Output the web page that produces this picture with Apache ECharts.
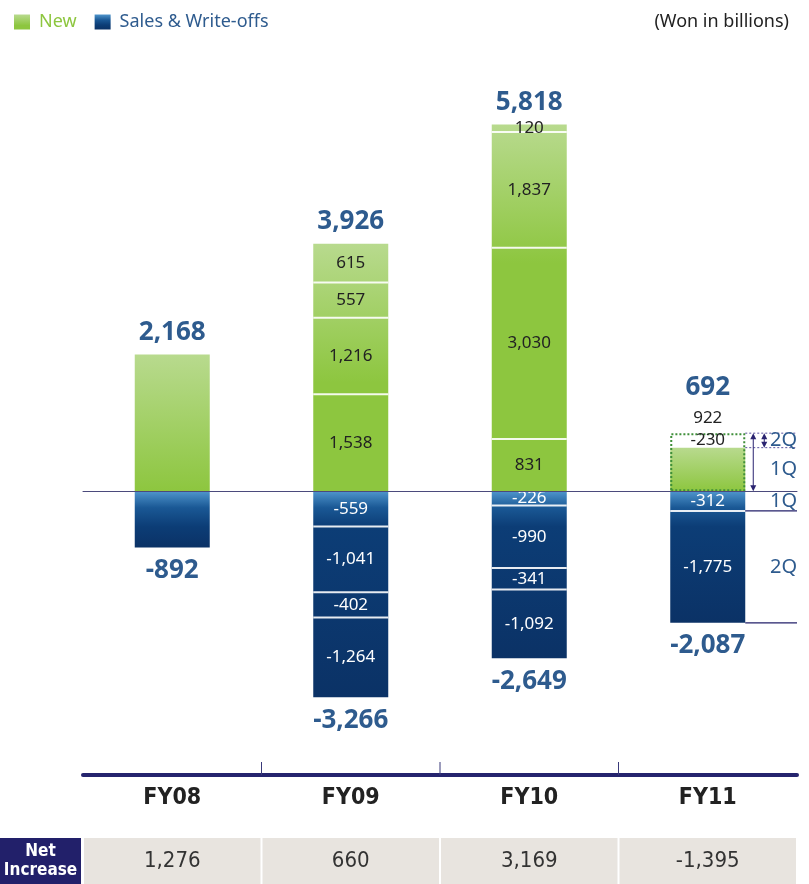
<!DOCTYPE html>
<html>
<head>
<meta charset="utf-8">
<script src="https://cdn.jsdelivr.net/npm/echarts@6/dist/echarts.min.js"></script>
<style>
  html, body { margin: 0; padding: 0; background: #fff; }
  #chart { width: 809px; height: 884px; }
</style>
</head>
<body>
<div id="chart"></div>
<script>
const categories = ['FY08', 'FY09', 'FY10', 'FY11'];
const newTotal = [2168, 3926, 5818, 692];
const salesTotal = [-892, -3266, -2649, -2087];
// stacked parts, the one next to zero first
const newParts = [[], [1538, 1216, 557, 615], [831, 3030, 1837, 120], []];
const salesParts = [[], [-559, -1041, -402, -1264], [-226, -990, -341, -1092], [-312, -1775]];
const fy11NewQuarters = [922, -230]; // 1Q, 2Q
const netIncrease = [1276, 660, 3169, -1395];

const FONT = "'Noto Sans', sans-serif";
const COND = "'DejaVu Sans Condensed', 'DejaVu Sans', sans-serif";
const BLUE_TEXT = '#2e5b8e';
const BAR_W = 75;

function fmt(v) { return v.toLocaleString('en-US'); }

function greenGrad(v) {
  const s = Math.min(1, 2200 / v);
  return new echarts.graphic.LinearGradient(0, 0, 0, 1, [
    { offset: 0, color: '#b8da8e' },
    { offset: s, color: '#8dc63f' },
    { offset: 1, color: '#8dc63f' }
  ]);
}
function blueGrad(v) {
  const a = Math.abs(v);
  const s1 = Math.min(0.4, 260 / a), s2 = Math.min(0.7, 560 / a);
  return new echarts.graphic.LinearGradient(0, 0, 0, 1, [
    { offset: 0, color: '#4f95cc' },
    { offset: s1, color: '#1a5895' },
    { offset: s2, color: '#0c3d76' },
    { offset: 1, color: '#0b3266' }
  ]);
}

// segment rows: [category, from, to, kind(0 green,1 blue,2 plain), isLast]
const segData = [];
function pushParts(parts, kind) {
  parts.forEach((list, i) => {
    let acc = 0;
    list.forEach((v, j) => {
      segData.push([i, acc, acc + v, kind, j === list.length - 1 ? 1 : 0]);
      acc += v;
    });
  });
}
pushParts(newParts, 0);
pushParts(salesParts, 1);
segData.push([3, fy11NewQuarters[0], fy11NewQuarters[0] + fy11NewQuarters[1], 2, 1]);

function renderSeg(params, api) {
  const i = api.value(0), a = api.value(1), b = api.value(2), kind = api.value(3), last = api.value(4);
  const pa = api.coord([i, a]), pb = api.coord([i, b]);
  const children = [{
    type: 'text',
    style: {
      text: fmt(b - a), x: pa[0], y: (pa[1] + pb[1]) / 2,
      textAlign: 'center', textVerticalAlign: 'middle',
      font: '17px ' + FONT, fill: kind === 1 ? '#fff' : '#222'
    }
  }];
  if (!last) {
    children.push({
      type: 'line',
      shape: { x1: pa[0] - BAR_W / 2, y1: pb[1], x2: pa[0] + BAR_W / 2, y2: pb[1] },
      style: { stroke: 'rgba(255,255,255,0.9)', lineWidth: 2 }
    });
  }
  return { type: 'group', children };
}

function arrow(x, y1, y2, color) {
  const h = 6, w = 3;
  return [
    { type: 'line', shape: { x1: x, y1: y1 + 2, x2: x, y2: y2 - 2 }, style: { stroke: color, lineWidth: 1 } },
    { type: 'polygon', shape: { points: [[x, y1], [x - w, y1 + h], [x + w, y1 + h]] }, style: { fill: color } },
    { type: 'polygon', shape: { points: [[x, y2], [x - w, y2 - h], [x + w, y2 - h]] }, style: { fill: color } }
  ];
}

function renderNote(params, api) {
  const i = api.value(0);
  const top = api.coord([i, api.value(1)])[1];
  const mid = api.coord([i, api.value(2)])[1];
  const zero = api.coord([i, 0]);
  const q1 = api.coord([i, api.value(3)])[1];
  const q2 = api.coord([i, api.value(4)])[1];
  const bx = zero[0] + BAR_W / 2;
  const rx = params.coordSys.x + params.coordSys.width;
  const dash = { stroke: '#5a529e', lineWidth: 1, lineDash: [2, 2] };
  const solid = { stroke: '#23206a', lineWidth: 1.3 };
  const txt = (t, y) => ({
    type: 'text',
    style: { text: t, x: rx, y: y, textAlign: 'right', textVerticalAlign: 'middle', font: '20px ' + FONT, fill: BLUE_TEXT }
  });
  const children = [
    { type: 'line', shape: { x1: bx, y1: top, x2: rx, y2: top }, style: dash },
    { type: 'line', shape: { x1: bx, y1: mid, x2: rx, y2: mid }, style: dash },
    { type: 'line', shape: { x1: bx, y1: q1, x2: rx, y2: q1 }, style: solid },
    { type: 'line', shape: { x1: bx, y1: q2, x2: rx, y2: q2 }, style: solid },
    ...arrow(bx + 8, top, zero[1], '#2a2370'),
    ...arrow(bx + 19, top, mid, '#2a2370'),
    txt('2Q', (top + mid) / 2),
    txt('1Q', (mid + zero[1]) / 2),
    txt('1Q', (zero[1] + q1) / 2),
    txt('2Q', (q1 + q2) / 2)
  ];
  return { type: 'group', children };
}

function renderTick(params, api) {
  const i = api.value(0);
  const x = api.coord([i, 0])[0] + api.size([1, 0])[0] / 2;
  const yb = params.coordSys.y + params.coordSys.height;
  return { type: 'line', shape: { x1: x, y1: yb - 13, x2: x, y2: yb }, style: { stroke: '#3a3a7a', lineWidth: 1 } };
}

function renderCell(params, api) {
  const i = api.value(0);
  const band = api.size([1, 0])[0];
  const p0 = api.coord([i, 0]), p1 = api.coord([i, 1]);
  return {
    type: 'group',
    children: [
      { type: 'rect', shape: { x: p0[0] - band / 2 + 1, y: p1[1], width: band - 2, height: p0[1] - p1[1] }, style: { fill: '#e8e4df' } },
      {
        type: 'text',
        style: {
          text: fmt(api.value(1)), x: p0[0], y: (p0[1] + p1[1]) / 2,
          textAlign: 'center', textVerticalAlign: 'middle', font: '22px ' + COND, fill: '#333'
        }
      }
    ]
  };
}

const bigLabel = { fontSize: 26, fontWeight: 'bold', color: BLUE_TEXT, fontFamily: FONT };

const option = {
  animation: false,
  title: {
    text: '(Won in billions)', right: 15, top: 8,
    textStyle: { fontSize: 18, fontWeight: 'normal', color: '#222', fontFamily: FONT }
  },
  legend: {
    left: 9, top: 8, icon: 'rect', itemWidth: 16, itemHeight: 15, itemGap: 18,
    data: [
      { name: 'New', textStyle: { color: '#8dc63f' } },
      { name: 'Sales & Write-offs', textStyle: { color: BLUE_TEXT } }
    ],
    textStyle: { fontSize: 18, fontFamily: FONT, padding: [0, 0, 0, 4] }
  },
  grid: [
    { left: 83, right: 12, top: 113, bottom: 109 },
    { left: 83, right: 12, top: 838, bottom: 0 }
  ],
  xAxis: [
    {
      type: 'category', data: categories, gridIndex: 0, position: 'top', z: 10,
      axisLine: { onZero: true, lineStyle: { color: '#4b4a7c', width: 1 } },
      axisTick: { show: false }, axisLabel: { show: false }
    },
    {
      type: 'category', data: categories, gridIndex: 0, position: 'bottom',
      axisLine: { onZero: false, lineStyle: { color: '#25246e', width: 4 } },
      axisTick: { show: false },
      axisLabel: { margin: 12, fontSize: 23, fontWeight: 'bold', color: '#222', fontFamily: COND }
    },
    { type: 'category', data: categories, gridIndex: 1, show: false }
  ],
  yAxis: [
    { type: 'value', gridIndex: 0, min: -4500, max: 6000, show: false },
    { type: 'value', gridIndex: 1, min: 0, max: 1, show: false }
  ],
  series: [
    {
      name: 'New', type: 'bar', stack: 'total', barWidth: BAR_W, barGap: '-100%',
      itemStyle: { color: greenGrad(3000) },
      label: { show: true, position: 'top', distance: 9, formatter: p => fmt(p.value), ...bigLabel },
      data: newTotal.map((v, i) => {
        const d = { value: v, itemStyle: { color: greenGrad(v) } };
        if (i === 3) d.label = { show: false };
        return d;
      })
    },
    {
      name: 'Sales & Write-offs', type: 'bar', stack: 'total', barWidth: BAR_W, barGap: '-100%',
      itemStyle: { color: blueGrad(700) },
      label: { show: true, position: 'bottom', distance: 10, formatter: p => fmt(p.value), ...bigLabel },
      data: salesTotal.map(v => ({ value: v, itemStyle: { color: blueGrad(v) } }))
    },
    {
      name: 'FY11 1Q', type: 'bar', barWidth: BAR_W, barGap: '-100%', z: 3,
      itemStyle: { color: 'rgba(0,0,0,0)', borderColor: '#3f8f3a', borderWidth: 2, borderType: [2, 2] },
      label: {
        show: true, position: 'top', distance: 0,
        formatter: () => '{t|' + fmt(newTotal[3]) + '}\n{v|' + fmt(fy11NewQuarters[0]) + '}',
        rich: {
          t: { fontSize: 26, fontWeight: 'bold', color: BLUE_TEXT, fontFamily: FONT, lineHeight: 32 },
          v: { fontSize: 17, color: '#222', fontFamily: FONT, lineHeight: 30 }
        }
      },
      data: ['-', '-', '-', fy11NewQuarters[0]]
    },
    {
      name: 'segments', type: 'custom', z: 5, renderItem: renderSeg,
      encode: { x: 0, y: [1, 2] }, data: segData
    },
    {
      name: 'notes', type: 'custom', z: 5, renderItem: renderNote,
      encode: { x: 0, y: [1, 2] },
      data: [[3, fy11NewQuarters[0], fy11NewQuarters[0] + fy11NewQuarters[1], salesParts[3][0], salesTotal[3]]]
    },
    {
      name: 'ticks', type: 'custom', xAxisIndex: 1, renderItem: renderTick,
      encode: { x: 0, y: 1 }, data: [[0, 0], [1, 0], [2, 0]]
    },
    {
      name: 'net', type: 'custom', xAxisIndex: 2, yAxisIndex: 1, renderItem: renderCell,
      encode: { x: 0, y: 1 }, data: netIncrease.map((v, i) => [i, v])
    }
  ],
  graphic: [
    { type: 'rect', left: 0, top: 838, shape: { width: 81, height: 46 }, style: { fill: '#22206a' } },
    {
      type: 'text', left: 3, top: 842,
      style: {
        text: 'Net\nIncrease', width: 75, align: 'center', textAlign: 'center',
        font: 'bold 17px ' + COND, fill: '#fff', lineHeight: 19
      }
    }
  ]
};

const myChart = echarts.init(document.getElementById('chart'));
myChart.setOption(option);
</script>
</body>
</html>
